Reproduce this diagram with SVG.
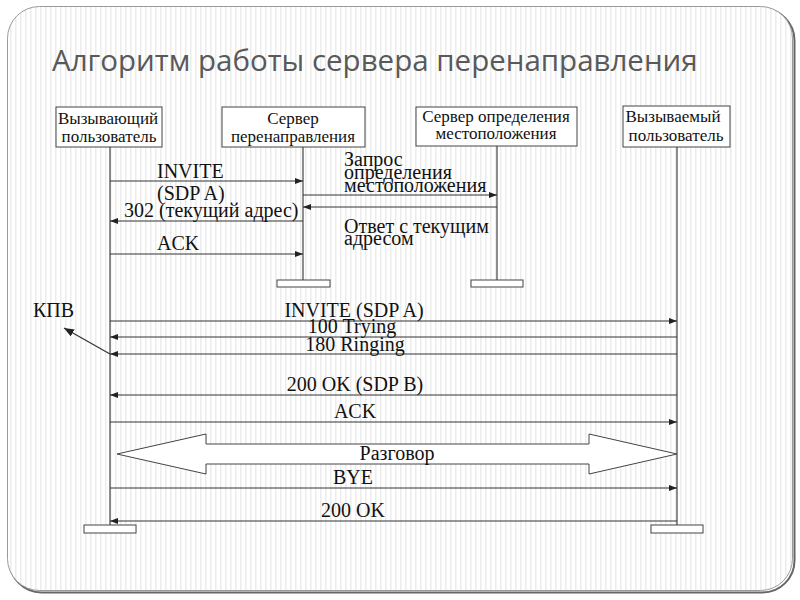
<svg xmlns="http://www.w3.org/2000/svg" width="800" height="600" viewBox="0 0 800 600">
<defs>
<pattern id="stripes" width="5" height="10" patternUnits="userSpaceOnUse">
<rect width="5" height="10" fill="#ffffff"/>
<rect x="0" width="1.5" height="10" fill="#ececec"/>
</pattern>
<marker id="ah" viewBox="0 0 8 6" refX="8" refY="3" markerWidth="8" markerHeight="6" markerUnits="userSpaceOnUse" orient="auto">
<path d="M0,0 L8,3 L0,6 Z" fill="#222"/>
</marker>
<marker id="ah2" viewBox="0 0 10 8" refX="10" refY="4" markerWidth="10" markerHeight="8" markerUnits="userSpaceOnUse" orient="auto">
<path d="M0,0 L10,4 L0,8 Z" fill="#222"/>
</marker>
</defs>
<style>
.box{fill:#ffffff;stroke:#444;stroke-width:1}
.bt{font-family:"Liberation Serif","Times New Roman",serif;font-size:17px;fill:#111;text-anchor:middle}
.lbl{font-family:"Liberation Serif","Times New Roman",serif;font-size:20px;fill:#111}
.life{stroke:#444;stroke-width:1.2;fill:none}
.msg{stroke:#333;stroke-width:1;fill:none;marker-end:url(#ah)}
.end{fill:#ffffff;stroke:#444;stroke-width:1}
</style>
<rect x="0" y="0" width="800" height="600" fill="#ffffff"/>
<rect x="9.5" y="8.5" width="785" height="584" rx="32" fill="none" stroke="#666" stroke-width="2"/>
<rect x="7.5" y="6.5" width="785" height="584" rx="32" fill="url(#stripes)" stroke="#999" stroke-width="1"/>
<text x="52" y="71" font-family="'Open Sans','Noto Sans',sans-serif" font-size="29.5" fill="#595959">Алгоритм работы сервера перенаправления</text>

<g id="caller">
<rect class="box" x="56" y="107" width="106" height="40"/>
<text class="bt" x="108" y="124">Вызывающий</text>
<text class="bt" x="109" y="142">пользователь</text>
</g>
<g id="redirect-server">
<rect class="box" x="222" y="107" width="143" height="40"/>
<text class="bt" x="293" y="124">Сервер</text>
<text class="bt" x="293" y="142">перенаправления</text>
</g>
<g id="location-server">
<rect class="box" x="416" y="107" width="161" height="39"/>
<text class="bt" x="496" y="122">Сервер  определения</text>
<text class="bt" x="496" y="139">местоположения</text>
</g>
<g id="callee">
<rect class="box" x="623" y="106" width="107" height="41"/>
<text class="bt" x="673" y="122">Вызываемый</text>
<text class="bt" x="676" y="141">пользователь</text>
</g>

<g id="lifelines">
<line class="life" x1="110" y1="147" x2="110" y2="525"/>
<line class="life" x1="303" y1="147" x2="303" y2="280"/>
<line class="life" x1="497" y1="146" x2="497" y2="280"/>
<line class="life" x1="677" y1="147" x2="677" y2="525"/>
<rect class="end" x="277" y="280" width="53" height="7"/>
<rect class="end" x="471" y="280" width="52" height="7"/>
<rect class="end" x="84" y="525" width="52" height="8"/>
<rect class="end" x="651" y="525" width="52" height="8"/>
</g>

<g id="connectors">
<line class="msg" x1="110" y1="181" x2="303" y2="181"/>
<line class="msg" x1="303" y1="195" x2="497" y2="195"/>
<line class="msg" x1="497" y1="207" x2="303" y2="207"/>
<line class="msg" x1="303" y1="221" x2="110" y2="221"/>
<line class="msg" x1="110" y1="254" x2="303" y2="254"/>
<line class="msg" x1="110" y1="321" x2="677" y2="321"/>
<line class="msg" x1="677" y1="337" x2="110" y2="337" stroke="#777"/>
<line class="msg" x1="677" y1="354" x2="110" y2="354"/>
<line class="msg" x1="677" y1="395" x2="110" y2="395"/>
<line class="msg" x1="110" y1="422" x2="677" y2="422"/>
<line class="msg" x1="110" y1="488" x2="677" y2="488"/>
<line class="msg" x1="677" y1="521" x2="110" y2="521"/>
<line x1="110" y1="354" x2="64" y2="328" stroke="#333" stroke-width="1.2" marker-end="url(#ah2)"/>
<path d="M117,454 L206,434 L206,444 L589,444 L589,434 L677,454 L589,474 L589,464 L206,464 L206,474 Z" fill="#ffffff" stroke="#444" stroke-width="1"/>
</g>

<g id="labels">
<text class="lbl" x="157" y="178">INVITE</text>
<text class="lbl" x="157" y="200">(SDP A)</text>
<text class="lbl" x="124" y="217">302 (текущий адрес)</text>
<text class="lbl" x="157" y="250">ACK</text>
<text class="lbl" x="344" y="166">Запрос</text>
<text class="lbl" x="344" y="179">определения</text>
<text class="lbl" x="344" y="192">местоположения</text>
<text class="lbl" x="344" y="233">Ответ с текущим</text>
<text class="lbl" x="344" y="245">адресом</text>
<text class="lbl" x="33" y="317">КПВ</text>
<text class="lbl" x="354" y="317" text-anchor="middle">INVITE (SDP A)</text>
<text class="lbl" x="352" y="333" text-anchor="middle">100 Trying</text>
<text class="lbl" x="355" y="351" text-anchor="middle">180 Ringing</text>
<text class="lbl" x="355" y="391" text-anchor="middle">200 OK (SDP B)</text>
<text class="lbl" x="355" y="418" text-anchor="middle">ACK</text>
<text class="lbl" x="397" y="460" text-anchor="middle">Разговор</text>
<text class="lbl" x="353" y="484" text-anchor="middle">BYE</text>
<text class="lbl" x="353" y="517" text-anchor="middle">200 OK</text>
</g>
</svg>
